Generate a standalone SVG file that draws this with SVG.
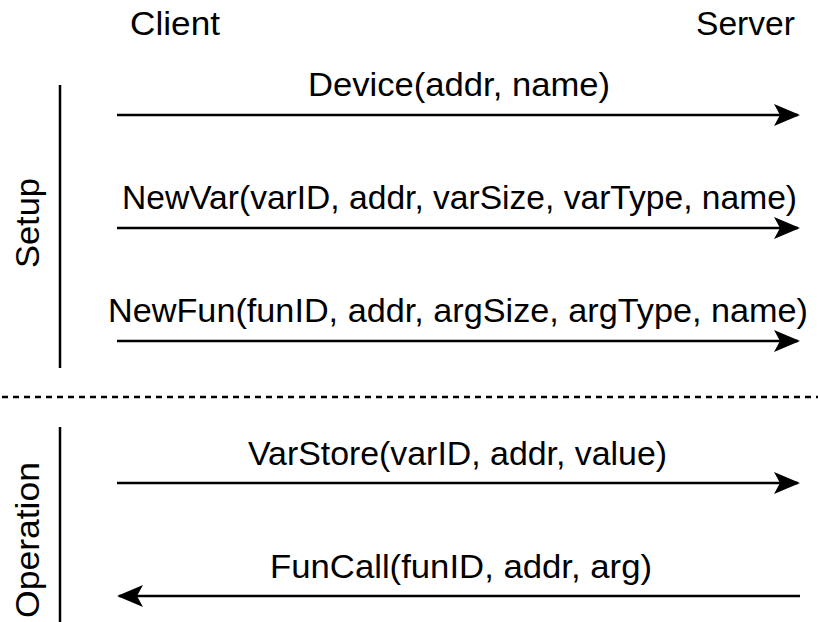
<svg xmlns="http://www.w3.org/2000/svg" width="818" height="622" viewBox="0 0 818 622">
  <style>
    text { font-family: "Liberation Sans", Arial, sans-serif; font-size: 33px; fill: #000; }
    .msg { stroke: #000; stroke-width: 2.5; fill: none; }
    .bar { stroke: #000; stroke-width: 2.5; fill: none; }
    .sep { stroke: #000; stroke-width: 2.5; stroke-dasharray: 6 5; fill: none; }
  </style>
  <defs>
    <marker id="arrow" viewBox="0 0 26 22" refX="24" refY="11" markerWidth="26" markerHeight="22" markerUnits="userSpaceOnUse" orient="auto">
      <path d="M0,0 L26,11 L0,22 L6,11 Z" fill="#000"/>
    </marker>
  </defs>
  <rect width="818" height="622" fill="#fff"/>

  <g id="client"><text x="130" y="35" textLength="90" lengthAdjust="spacingAndGlyphs">Client</text></g>
  <g id="server"><text x="696" y="35" textLength="99" lengthAdjust="spacingAndGlyphs">Server</text></g>

  <g id="setup">
    <line class="bar" x1="60" y1="85" x2="60" y2="368"/>
    <text transform="translate(39,268) rotate(-90)" textLength="90" lengthAdjust="spacingAndGlyphs">Setup</text>
  </g>
  <g id="operation">
    <line class="bar" x1="60" y1="427" x2="60" y2="622"/>
    <text transform="translate(39,618) rotate(-90)" textLength="156" lengthAdjust="spacingAndGlyphs">Operation</text>
  </g>

  <g id="separator"><line class="sep" x1="2" y1="397" x2="818" y2="397"/></g>

  <g id="labels">
    <text x="308" y="96" textLength="302" lengthAdjust="spacingAndGlyphs">Device(addr, name)</text>
    <text x="122" y="209" textLength="675" lengthAdjust="spacingAndGlyphs">NewVar(varID, addr, varSize, varType, name)</text>
    <text x="108" y="322" textLength="700" lengthAdjust="spacingAndGlyphs">NewFun(funID, addr, argSize, argType, name)</text>
    <text x="248" y="465" textLength="419" lengthAdjust="spacingAndGlyphs">VarStore(varID, addr, value)</text>
    <text x="270" y="578" textLength="382" lengthAdjust="spacingAndGlyphs">FunCall(funID, addr, arg)</text>
  </g>

  <g id="connectors">
    <line class="msg" x1="117" y1="115" x2="798" y2="115" marker-end="url(#arrow)"/>
    <line class="msg" x1="117" y1="228" x2="798" y2="228" marker-end="url(#arrow)"/>
    <line class="msg" x1="117" y1="341" x2="798" y2="341" marker-end="url(#arrow)"/>
    <line class="msg" x1="117" y1="483" x2="798" y2="483" marker-end="url(#arrow)"/>
    <line class="msg" x1="800" y1="596" x2="119" y2="596" marker-end="url(#arrow)"/>
  </g>
</svg>
